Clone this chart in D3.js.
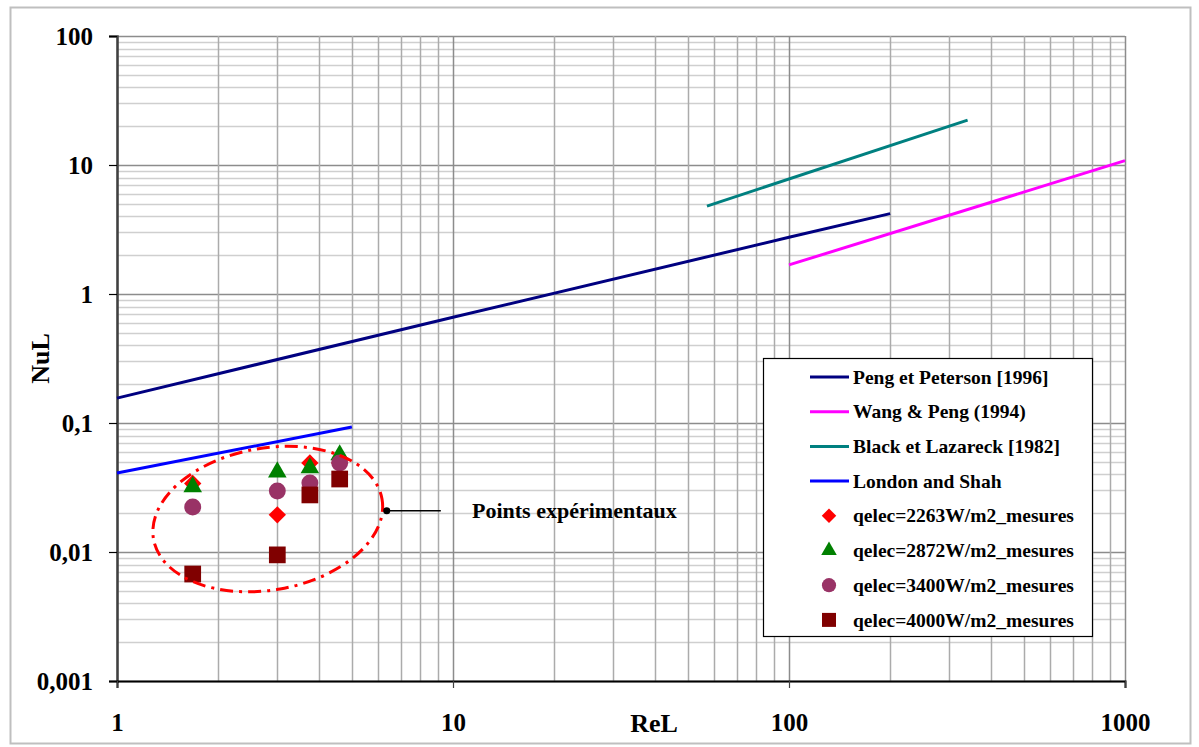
<!DOCTYPE html>
<html>
<head>
<meta charset="utf-8">
<title>NuL vs ReL</title>
<script src="https://d3js.org/d3.v7.min.js"></script>
<style>
  body { margin: 0; background: #fff; }
  svg text { font-family: "Liberation Serif", "Times New Roman", serif; font-weight: bold; fill: #000; }
</style>
</head>
<body>
<script>
//panel size
var w = 1199, h = 747;

// ** correlation curves (ReL, NuL) **
var pengRe = [1, 10, 100, 200];
var pengNu = [0.156, 0.66, 2.75, 4.2];
var wangRe = [100, 1000];
var wangNu = [1.68, 10.8];
var blackRe = [57, 340];
var blackNu = [4.8, 22.3];
var londonRe = [1, 5];
var londonNu = [0.041, 0.093];

// ** experimental points **
var reExp = [1.68, 3.0, 3.75, 4.6];
var nu2263 = [0.034, 0.0194, 0.049, 0.049];
var nu2872 = [0.032, 0.0417, 0.0448, 0.0565];
var nu3400 = [0.0223, 0.0297, 0.0343, 0.049];
var nu4000 = [0.00675, 0.0095, 0.0277, 0.0368];

// ** ticks **
var xTickValues = [1, 10, 100, 1000];
var xTickLabels = ["1", "10", "100", "1000"];
var yTickValues = [0.001, 0.01, 0.1, 1, 10, 100];
var yTickLabels = ["0,001", "0,01", "0,1", "1", "10", "100"];

// ** legend **
var legendNames = ["Peng et Peterson [1996]", "Wang & Peng (1994)", "Black et Lazareck [1982]", "London and Shah",
    "qelec=2263W/m2_mesures", "qelec=2872W/m2_mesures", "qelec=3400W/m2_mesures", "qelec=4000W/m2_mesures"];

var lineSeries = [
    {name: legendNames[0], re: pengRe, nu: pengNu, color: "#000080"},
    {name: legendNames[1], re: wangRe, nu: wangNu, color: "#FF00FF"},
    {name: legendNames[2], re: blackRe, nu: blackNu, color: "#008080"},
    {name: legendNames[3], re: londonRe, nu: londonNu, color: "#0000FF"}
];
var pointSeries = [
    {name: legendNames[4], nu: nu2263, color: "#FF0000", shape: "diamond"},
    {name: legendNames[5], nu: nu2872, color: "#008000", shape: "triangle"},
    {name: legendNames[6], nu: nu3400, color: "#993366", shape: "circle"},
    {name: legendNames[7], nu: nu4000, color: "#800000", shape: "square"}
];

window.onload = function(){

    var container = d3.select("body")
        .append("svg")
        .attr("width", w)
        .attr("height", h)
        .attr("class", "container");

    //outer chart frame
    container.append("rect")
        .attr("class", "frame")
        .attr("x", 10.5)
        .attr("y", 7.5)
        .attr("width", 1180)
        .attr("height", 736)
        .style("fill", "#fff")
        .style("stroke", "#bfbfbf")
        .style("stroke-width", 2);

    var x = d3.scaleLog()
        .domain([1, 1000])
        .range([117, 1125]);

    var y = d3.scaleLog()
        .domain([0.001, 100])
        .range([681, 36]);

    function isMajor(v){
        var l = Math.log10(v);
        return Math.abs(l - Math.round(l)) < 1e-9;
    }

    // ** GRID **
    var grid = container.append("g").attr("class", "grid");

    grid.selectAll(".hgrid")
        .data(y.ticks())
        .enter()
        .append("line")
        .attr("class", "hgrid")
        .attr("x1", x(1))
        .attr("x2", x(1000))
        .attr("y1", function(d){ return Math.round(y(d)) + 0.5; })
        .attr("y2", function(d){ return Math.round(y(d)) + 0.5; })
        .style("stroke", function(d){ return isMajor(d) ? "#8c8c8c" : "#cfcfcf"; })
        .style("stroke-width", function(d){ return isMajor(d) ? 1.5 : 1.5; });

    grid.selectAll(".vgrid")
        .data(x.ticks())
        .enter()
        .append("line")
        .attr("class", "vgrid")
        .attr("y1", y(0.001))
        .attr("y2", y(100))
        .attr("x1", function(d){ return Math.round(x(d)) + 0.5; })
        .attr("x2", function(d){ return Math.round(x(d)) + 0.5; })
        .style("stroke", function(d){ return isMajor(d) ? "#8c8c8c" : "#ababab"; })
        .style("stroke-width", 1.5);

    // ** AXES **
    var yAxis = d3.axisLeft(y)
        .tickValues(yTickValues)
        .tickSize(8)
        .tickPadding(16)
        .tickFormat(function(d, i){ return yTickLabels[i]; });

    var yAxisG = container.append("g")
        .attr("class", "axis y-axis")
        .attr("transform", "translate(" + x(1) + ",0)")
        .call(yAxis);

    yAxisG.select(".domain").style("stroke", "#404040").style("stroke-width", 2.5);
    yAxisG.selectAll(".tick line").style("stroke", "#000").style("stroke-width", 1.2);
    yAxisG.selectAll(".tick text")
        .attr("dy", "0.34em")
        .style("font-size", "25px")
        .style("font-family", "Liberation Serif")
        .style("font-weight", "bold");

    var xAxis = d3.axisBottom(x)
        .tickValues(xTickValues)
        .tickSize(7)
        .tickFormat(function(d, i){ return xTickLabels[i]; });

    var xAxisG = container.append("g")
        .attr("class", "axis x-axis")
        .attr("transform", "translate(0," + y(0.001) + ")")
        .call(xAxis);

    xAxisG.select(".domain").style("stroke", "#000").style("stroke-width", 2);
    xAxisG.selectAll(".tick line").style("stroke", "#404040").style("stroke-width", 1.2);
    xAxisG.selectAll(".tick text")
        .attr("y", 50)
        .attr("dy", 0)
        .style("font-size", "25px")
        .style("font-family", "Liberation Serif")
        .style("font-weight", "bold");

    //axis titles
    container.append("text")
        .attr("class", "xtitle")
        .attr("text-anchor", "middle")
        .attr("x", 654)
        .attr("y", 732)
        .style("font-size", "26px")
        .text("ReL");

    container.append("text")
        .attr("class", "ytitle")
        .attr("text-anchor", "middle")
        .attr("transform", "translate(49," + ((y(0.001) + y(100)) / 2) + ") rotate(-90)")
        .style("font-size", "26px")
        .text("NuL");

    // ** CORRELATION LINES **
    var line = d3.line()
        .x(function(d){ return x(d[0]); })
        .y(function(d){ return y(d[1]); });

    container.selectAll(".curves")
        .data(lineSeries)
        .enter()
        .append("path")
        .attr("class", "curves")
        .attr("d", function(d){
            return line(d.re.map(function(r, i){ return [r, d.nu[i]]; }));
        })
        .style("fill", "none")
        .style("stroke", function(d){ return d.color; })
        .style("stroke-width", 3);

    // ** MARKERS **
    var shapes = {
        diamond: d3.symbolSquare,
        triangle: d3.symbolTriangle,
        circle: d3.symbolCircle,
        square: d3.symbolSquare
    };
    var sizes = {diamond: 150, triangle: 150, circle: 225, square: 280};

    function markerPath(shape, scale){
        return d3.symbol().type(shapes[shape]).size(sizes[shape] * scale)();
    }

    pointSeries.forEach(function(s){
        container.selectAll(".pt-" + s.shape)
            .data(reExp.map(function(r, i){ return [r, s.nu[i]]; }))
            .enter()
            .append("path")
            .attr("class", "pt-" + s.shape)
            .attr("d", markerPath(s.shape, 1))
            .attr("transform", function(d){
                return "translate(" + x(d[0]) + "," + y(d[1]) + ")" + (s.shape == "diamond" ? " rotate(45)" : "");
            })
            .style("fill", s.color);
    });

    // ** ANNOTATION: dashed ellipse round the experimental points **
    var ellipseCenter = [2.81, 0.018];
    container.append("ellipse")
        .attr("class", "annot")
        .attr("cx", 0)
        .attr("cy", 0)
        .attr("rx", 116)
        .attr("ry", 71)
        .attr("transform", "translate(" + x(ellipseCenter[0]) + "," + y(ellipseCenter[1]) + ") rotate(-10)")
        .style("fill", "none")
        .style("stroke", "#FF0000")
        .style("stroke-width", 3)
        .style("stroke-dasharray", "13,6,3,6");

    var calloutStart = [6.35, 0.0209];
    var calloutEnd = [9.2, 0.0209];
    container.append("line")
        .attr("x1", x(calloutStart[0]))
        .attr("y1", y(calloutStart[1]))
        .attr("x2", x(calloutEnd[0]))
        .attr("y2", y(calloutEnd[1]))
        .style("stroke", "#000")
        .style("stroke-width", 1.5);

    container.append("circle")
        .attr("cx", x(calloutStart[0]))
        .attr("cy", y(calloutStart[1]))
        .attr("r", 3.5)
        .style("fill", "#000");

    container.append("text")
        .attr("x", 472)
        .attr("y", y(calloutStart[1]))
        .attr("dy", "0.33em")
        .style("font-size", "22px")
        .text("Points expérimentaux");

    // ** LEGEND **
    var legend = container.append("g")
        .attr("class", "legend")
        .attr("transform", "translate(763,358)");

    legend.append("rect")
        .attr("x", 0.5)
        .attr("y", 0.5)
        .attr("width", 329)
        .attr("height", 278)
        .style("fill", "#fff")
        .style("stroke", "#000")
        .style("stroke-width", 1.2);

    var rowY = function(i){ return 19 + i * 34.7; };

    var items = legend.selectAll(".legendItem")
        .data(lineSeries.concat(pointSeries))
        .enter()
        .append("g")
        .attr("class", "legendItem")
        .attr("transform", function(d, i){ return "translate(0," + rowY(i) + ")"; });

    items.filter(function(d){ return !d.shape; })
        .append("line")
        .attr("x1", 47)
        .attr("x2", 86)
        .attr("y1", 0)
        .attr("y2", 0)
        .style("stroke", function(d){ return d.color; })
        .style("stroke-width", 3);

    items.filter(function(d){ return d.shape; })
        .append("path")
        .attr("d", function(d){ return markerPath(d.shape, 0.7); })
        .attr("transform", function(d){ return "translate(66,0)" + (d.shape == "diamond" ? " rotate(45)" : ""); })
        .style("fill", function(d){ return d.color; });

    items.append("text")
        .attr("x", 90)
        .attr("y", 0)
        .attr("dy", "0.34em")
        .style("font-size", "19.5px")
        .text(function(d){ return d.name; });
};
</script>
</body>
</html>
